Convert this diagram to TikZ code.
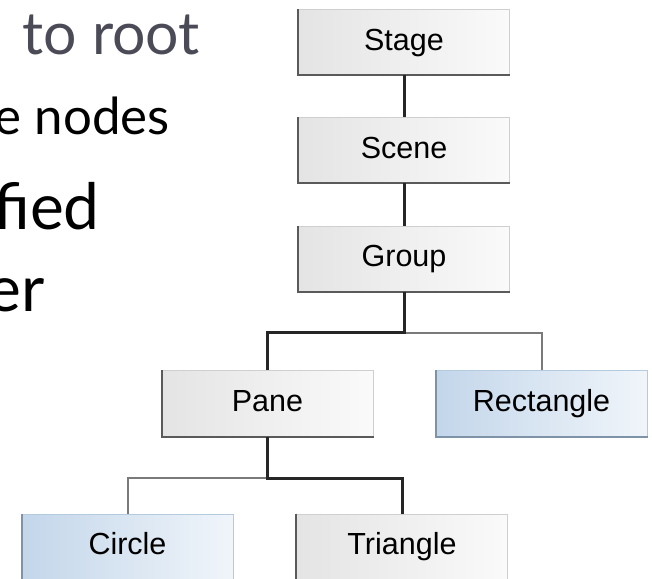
\documentclass[tikz,border=0pt]{standalone}
\usepackage{fontspec}
\newfontfamily\boxfont{Liberation Sans}
\newfontfamily\slidefont{Lato}
\definecolor{rootgrey}{HTML}{4B4A57}
\definecolor{greyleft}{HTML}{E4E4E4}
\definecolor{greyright}{HTML}{FAFAFA}
\definecolor{blueleft}{HTML}{C3D6EA}
\definecolor{blueright}{HTML}{F0F5FA}
\definecolor{boxedge}{HTML}{CFCFCF}
\definecolor{blueedge}{HTML}{B4CADF}
\definecolor{shadowgrey}{HTML}{5A5A5A}
\definecolor{shadowblue}{HTML}{7F93A8}
\definecolor{linedark}{HTML}{262626}
\definecolor{linegrey}{HTML}{7A7A7A}
\tikzset{
  classbox/.style={draw=boxedge, line width=1pt, minimum width=211pt, minimum height=65pt,
    inner sep=0pt, text height=22pt, text depth=6pt, font=\boxfont\fontsize{30.5}{36}\selectfont,
    left color=greyleft, right color=greyright},
  leafbox/.style={classbox, draw=blueedge, left color=blueleft, right color=blueright},
  boxshadow/.style={draw=shadowgrey, line width=2pt},
  trunk/.style={draw=linedark, line width=3pt},
  branch/.style={draw=linegrey, line width=2pt},
  slidetext/.style={anchor=base east, inner sep=0pt}
}
\begin{document}
\begin{tikzpicture}[x=1pt, y=1pt]
  \useasboundingbox (0,0) rectangle (652,578);
  % cut-off slide text
  \node[slidetext, text=rootgrey, font=\slidefont\fontsize{59}{70}\selectfont] (root) at (200,523) {to root};
  \node[slidetext, font=\slidefont\fontsize{51}{60}\selectfont] (nodes) at (170,443) {e nodes};
  \node[slidetext, font=\slidefont\fontsize{64}{76}\selectfont] (fied) at (100,348) {fied};
  \node[slidetext, font=\slidefont\fontsize{64}{76}\selectfont] (er) at (45,266) {er};
  % scene graph
  \node[classbox] (stage) at (404,535.5) {Stage};
  \node[classbox] (scene) at (404,427.5) {Scene};
  \node[classbox] (group) at (404,319) {Group};
  \node[classbox] (pane) at (267.5,174.5) {Pane};
  \node[leafbox] (rect) at (541.5,174.5) {Rectangle};
  \node[leafbox] (circle) at (127.5,31.5) {Circle};
  \node[classbox] (triangle) at (402,31.5) {Triangle};
  \foreach \n in {stage,scene,group,pane,triangle}
    \draw[boxshadow] (\n.north west) -- (\n.south west) -- (\n.south east);
  \foreach \n in {rect,circle}
    \draw[boxshadow, draw=shadowblue] (\n.north west) -- (\n.south west) -- (\n.south east);
  \coordinate (gsplit) at (404,245);
  \coordinate (psplit) at (267.5,100);
  \draw[trunk] (stage) -- (scene);
  \draw[trunk] (scene) -- (group);
  \draw[branch] (gsplit) -| (rect.north);
  \draw[branch] (psplit) -| (circle.north);
  \draw[trunk] (group.south) -- (gsplit) -| (pane.north);
  \draw[trunk] (pane.south) -- (psplit) -| (triangle.north);
\end{tikzpicture}
\end{document}
